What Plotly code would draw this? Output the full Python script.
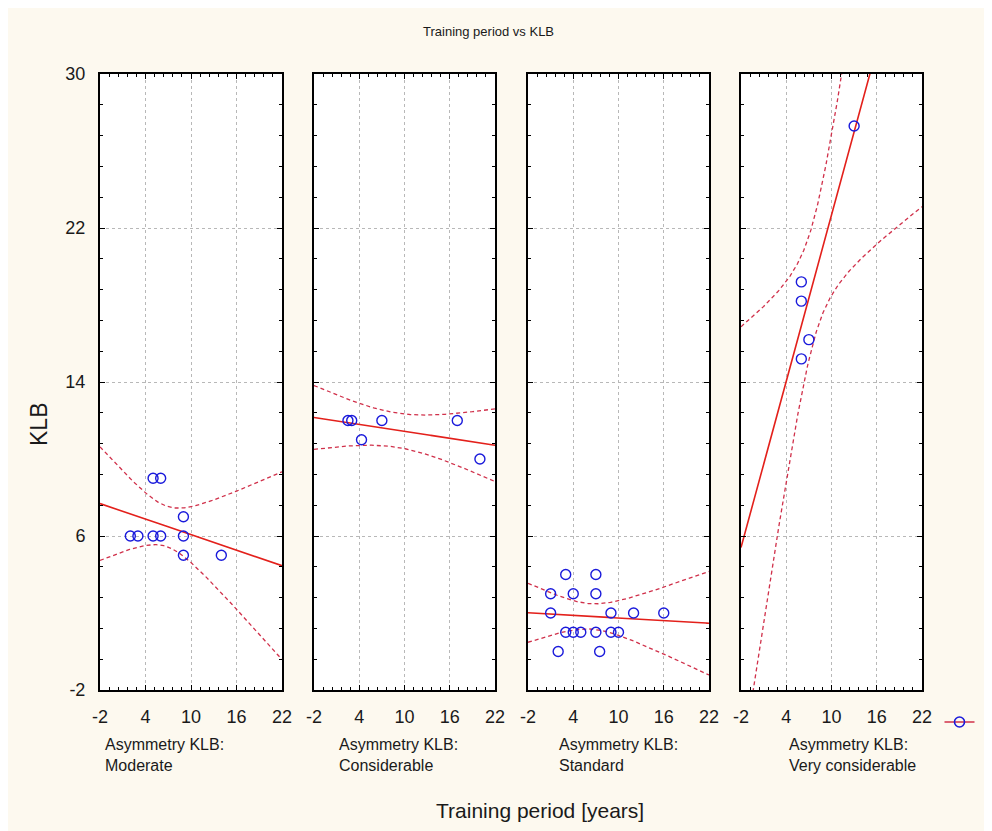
import numpy as np
import plotly.graph_objects as go

# ---------------- data ----------------
panel_names = ["Asymmetry KLB:<br>Moderate", "Asymmetry KLB:<br>Considerable",
               "Asymmetry KLB:<br>Standard", "Asymmetry KLB:<br>Very considerable"]

moderate_x = [5, 6, 2, 3, 5, 6, 9, 9, 9, 14]
moderate_y = [9, 9, 6, 6, 6, 6, 6, 7, 5, 5]

considerable_x = [2.5, 3, 4.3, 7, 17, 20]
considerable_y = [12, 12, 11, 12, 12, 10]

standard_x = [3, 7, 1, 4, 7, 1, 9, 12, 16, 3, 4, 5, 7, 9, 10, 2, 7.5]
standard_y = [4, 4, 3, 3, 3, 2, 2, 2, 2, 1, 1, 1, 1, 1, 1, 0, 0]

very_x = [13, 6, 6, 7, 6]
very_y = [27.3, 19.2, 18.2, 16.2, 15.2]

x_ticks = [-2, 4, 10, 16, 22]
y_ticks = [-2, 6, 14, 22, 30]

# two-sided 95% Student t critical values by degrees of freedom
T95 = {1: 12.706, 2: 4.303, 3: 3.182, 4: 2.776, 5: 2.571, 6: 2.447, 7: 2.365,
       8: 2.306, 9: 2.262, 10: 2.228, 11: 2.201, 12: 2.179, 13: 2.160,
       14: 2.145, 15: 2.131, 16: 2.120, 17: 2.110, 18: 2.101, 19: 2.093, 20: 2.086}

panels = [(moderate_x, moderate_y), (considerable_x, considerable_y),
          (standard_x, standard_y), (very_x, very_y)]

# ---------------- layout geometry ----------------
W, H = 992, 831
OFF = 8  # page body margin


def fx(p):
    return (p - OFF) / W


def fy(p):
    return 1 - (p - OFF) / H


px_x = [(100, 282), (314, 495), (528, 709), (741, 922)]
y_dom = [fy(690), fy(74)]

LINE_RED = "#e3201b"
BAND_RED = "#d0304a"
BLUE = "#1a1adb"
FONT = "Liberation Sans, Arial, sans-serif"
TXT = "#1a1a1a"

fig = go.Figure()

for i, (xs, ys) in enumerate(panels):
    xa = "x" if i == 0 else f"x{i+1}"
    ya = "y" if i == 0 else f"y{i+1}"
    x = np.array(xs, float)
    y = np.array(ys, float)
    n = len(x)
    b, a = np.polyfit(x, y, 1)
    mx = x.mean()
    sxx = ((x - mx) ** 2).sum()
    resid = y - (a + b * x)
    s = np.sqrt((resid ** 2).sum() / (n - 2))
    t = T95[n - 2]
    xg = np.linspace(-2, 22, 241)
    yf = a + b * xg
    hw = t * s * np.sqrt(1 / n + (xg - mx) ** 2 / sxx)

    for sign in (1, -1):
        fig.add_trace(go.Scatter(x=xg, y=yf + sign * hw, mode="lines",
                                 line=dict(color=BAND_RED, width=1.3, dash="4px,3px"),
                                 xaxis=xa, yaxis=ya, showlegend=False, hoverinfo="skip"))
    fig.add_trace(go.Scatter(x=xg, y=yf, mode="lines",
                             line=dict(color=LINE_RED, width=1.6),
                             xaxis=xa, yaxis=ya, showlegend=False, hoverinfo="skip"))
    fig.add_trace(go.Scatter(x=x, y=y, mode="markers",
                             marker=dict(symbol="circle-open", size=10, color=BLUE,
                                         line=dict(width=1.4, color=BLUE)),
                             xaxis=xa, yaxis=ya, showlegend=False, cliponaxis=False))

# legend sample
fig.add_trace(go.Scatter(x=[None], y=[None], mode="lines+markers", name=" ",
                         line=dict(color=BAND_RED, width=1.4),
                         marker=dict(symbol="circle-open", size=10, color=BLUE,
                                     line=dict(width=1.6, color=BLUE)),
                         showlegend=True))

axis_common = dict(showline=True, linecolor="black", linewidth=2, mirror="allticks",
                   ticks="inside", ticklen=5, tickcolor="black", tickwidth=1,
                   showgrid=True, gridcolor="#b8b8b8", griddash="dot", gridwidth=1,
                   zeroline=False, automargin=False,
                   tickfont=dict(family=FONT, size=18, color=TXT))

layout = dict(
    width=W, height=H, autosize=False,
    paper_bgcolor="#fdf9ef", plot_bgcolor="white",
    margin=dict(l=0, r=0, t=0, b=0, autoexpand=False),
    showlegend=True,
    legend=dict(x=fx(963), y=fy(722), xanchor="center", yanchor="middle",
                bgcolor="rgba(0,0,0,0)", itemwidth=30, font=dict(size=6)),
)

for i, (l, r) in enumerate(px_x):
    xk = "xaxis" if i == 0 else f"xaxis{i+1}"
    yk = "yaxis" if i == 0 else f"yaxis{i+1}"
    ya = "y" if i == 0 else f"y{i+1}"
    xa = "x" if i == 0 else f"x{i+1}"
    layout[xk] = dict(axis_common, domain=[fx(l), fx(r)], range=[-2, 22],
                      tickvals=x_ticks, ticktext=[str(v) for v in x_ticks],
                      ticklabelstandoff=9, anchor=ya,
                      minor=dict(ticks="inside", ticklen=3, tickcolor="black",
                                 tick0=-2, dtick=1.2, showgrid=False))
    layout[yk] = dict(axis_common, domain=y_dom, range=[-2, 30],
                      tickvals=y_ticks, ticktext=[str(v) for v in y_ticks],
                      showticklabels=(i == 0), anchor=xa,
                      ticklabelstandoff=9,
                      minor=dict(ticks="inside", ticklen=3, tickcolor="black",
                                 tick0=-2, dtick=1.6, showgrid=False))

fig.update_layout(**layout)

annotations = [
    dict(text="Training period vs KLB", x=fx(488), y=fy(32), xref="paper", yref="paper",
         xanchor="center", yanchor="middle",
         showarrow=False, font=dict(family=FONT, size=13, color=TXT)),
    dict(text="KLB", x=fx(39), y=fy(425), xref="paper", yref="paper", textangle=-90,
         xanchor="center", yanchor="middle",
         showarrow=False, font=dict(family=FONT, size=23, color=TXT)),
    dict(text="Training period [years]", x=fx(540), y=fy(810), xref="paper", yref="paper",
         xanchor="center", yanchor="middle",
         showarrow=False, font=dict(family=FONT, size=21, color=TXT)),
]
sub_x = [103, 337, 557, 787]
for name, sx in zip(panel_names, sub_x):
    annotations.append(dict(text=name, x=fx(sx), y=fy(755), xref="paper", yref="paper",
                            xanchor="left", yanchor="middle", align="left", showarrow=False,
                            font=dict(family=FONT, size=16, color=TXT)))
fig.update_layout(annotations=annotations)

fig.write_html("out.html")
